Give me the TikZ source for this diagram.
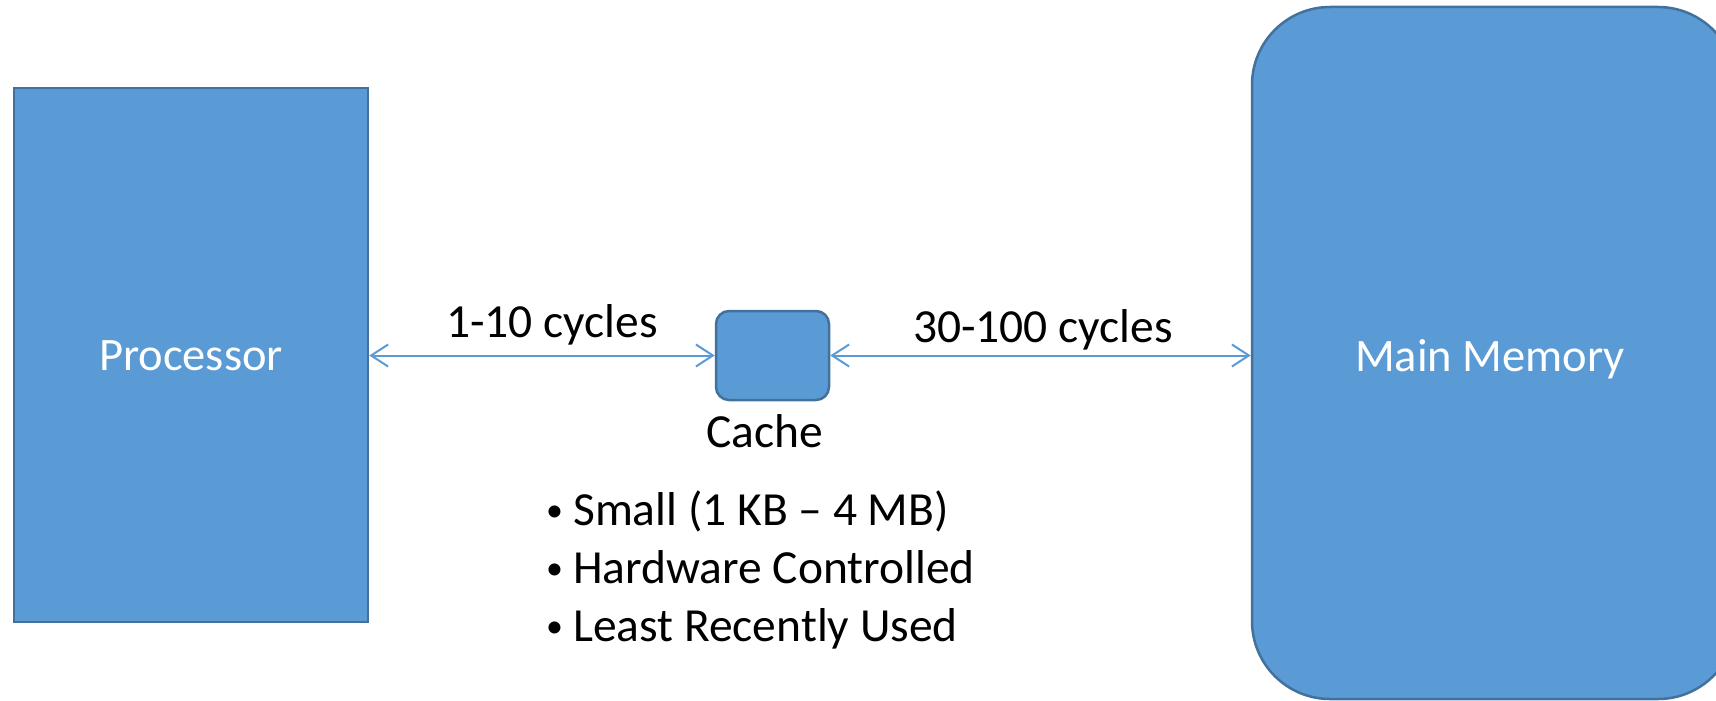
\documentclass[tikz,border=0pt]{standalone}
\usepackage{fontspec}
\setmainfont{Carlito}
\usetikzlibrary{arrows.meta}
\definecolor{boxfill}{HTML}{5B9BD5}
\definecolor{boxline}{HTML}{41719C}
\newcommand{\smallbul}{\makebox[27pt][l]{\raisebox{4pt}{\fontsize{34}{34}\selectfont •}}}
\tikzset{
  box/.style={draw=boxline, line width=2.5pt, fill=boxfill, inner sep=0pt},
  lbl/.style={font=\fontsize{47.5}{57}\selectfont, inner sep=0pt, anchor=base},
  wlbl/.style={lbl, font=\fontsize{46.5}{56}\selectfont, text=white},
  arr/.style={draw=boxfill, line width=2pt, {Straight Barb[length=17pt,width=22pt,line width=2pt]}-{Straight Barb[length=17pt,width=22pt,line width=2pt]}},
}
\begin{document}
\begin{tikzpicture}[x=1pt,y=-1pt]
\useasboundingbox (0,0) rectangle (1716,701);
\begin{scope}
\clip (0,0) rectangle (1716,701);
\node[box, minimum width=354pt, minimum height=534pt] (proc) at (191,355) {};
\node[box, rounded corners=13pt, minimum width=113pt, minimum height=89pt] (cache) at (772.5,355.5) {};
\node[box, rounded corners=78pt, minimum width=484pt, minimum height=692pt] (mem) at (1494,353) {};
\end{scope}
\node[wlbl] (proct) at (191,370) {Processor};
\node[wlbl] (memt) at (1490,371) {Main Memory};
\node[lbl] (cachet) at (765,447) {Cache};
\node[lbl] (l1) at (552,337) {1-10 cycles};
\node[lbl] (l2) at (1043,342) {30-100 cycles};
\node[lbl, anchor=base west] (b1) at (546,525) {\smallbul Small (1 KB – 4 MB)};
\node[lbl, anchor=base west] (b2) at (546,583) {\smallbul Hardware Controlled};
\node[lbl, anchor=base west] (b3) at (546,641) {\smallbul Least Recently Used};
\draw[arr] (proc.east |- cache.west) -- (cache.west);
\draw[arr] (cache.east) -- (mem.west |- cache.east);
\end{tikzpicture}
\end{document}
